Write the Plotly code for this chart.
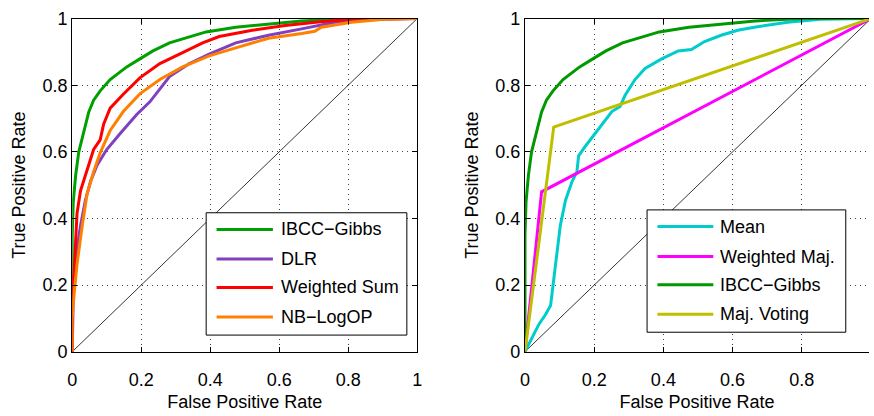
import plotly.graph_objects as go

# ---------------- data ----------------
ibcc_fpr = [0, 0, 0.003, 0.01, 0.019, 0.033, 0.048, 0.062, 0.081, 0.11, 0.158, 0.196, 0.234, 0.282, 0.33, 0.388, 0.474, 0.569, 0.665, 0.8, 1]
ibcc_tpr = [0, 0.35, 0.45, 0.53, 0.60, 0.66, 0.72, 0.755, 0.783, 0.817, 0.855, 0.879, 0.903, 0.927, 0.943, 0.96, 0.974, 0.984, 0.993, 1.0, 1.0]

dlr_fpr = [0, 0.003, 0.01, 0.024, 0.038, 0.053, 0.072, 0.1, 0.139, 0.187, 0.225, 0.254, 0.282, 0.34, 0.397, 0.474, 0.569, 0.665, 0.761, 0.856, 1]
dlr_tpr = [0, 0.168, 0.28, 0.378, 0.454, 0.511, 0.56, 0.607, 0.655, 0.712, 0.75, 0.788, 0.826, 0.865, 0.893, 0.927, 0.95, 0.969, 0.989, 0.998, 1]

ws_fpr = [0, 0, 0.005, 0.014, 0.024, 0.038, 0.053, 0.062, 0.081, 0.091, 0.11, 0.148, 0.196, 0.254, 0.32, 0.378, 0.426, 0.522, 0.617, 0.713, 0.809, 1]
ws_tpr = [0, 0.2, 0.235, 0.416, 0.483, 0.53, 0.578, 0.607, 0.636, 0.683, 0.731, 0.773, 0.822, 0.865, 0.898, 0.927, 0.946, 0.965, 0.979, 0.99, 0.998, 1]

nb_fpr = [0, 0, 0.005, 0.014, 0.029, 0.043, 0.062, 0.081, 0.11, 0.148, 0.196, 0.254, 0.32, 0.397, 0.474, 0.569, 0.665, 0.703, 0.722, 0.809, 0.904, 1]
nb_tpr = [0, 0.1, 0.168, 0.263, 0.378, 0.473, 0.54, 0.597, 0.664, 0.721, 0.774, 0.817, 0.855, 0.888, 0.912, 0.941, 0.955, 0.962, 0.974, 0.989, 0.998, 1]

mean_fpr = [0, 0.021, 0.04, 0.059, 0.074, 0.083, 0.093, 0.102, 0.117, 0.136, 0.15, 0.155, 0.174, 0.203, 0.232, 0.251, 0.275, 0.289, 0.318, 0.347, 0.395, 0.443, 0.481, 0.519, 0.567, 0.615, 0.663, 0.759, 0.854, 1]
mean_tpr = [0, 0.044, 0.082, 0.111, 0.139, 0.216, 0.302, 0.378, 0.454, 0.511, 0.54, 0.588, 0.616, 0.655, 0.693, 0.721, 0.736, 0.769, 0.817, 0.85, 0.879, 0.903, 0.907, 0.931, 0.95, 0.965, 0.974, 0.989, 0.998, 1]

wmaj_fpr = [0, 0.048, 1]
wmaj_tpr = [0, 0.48, 1]

maj_fpr = [0, 0.083, 1]
maj_tpr = [0, 0.674, 1]

diag = [0, 1]

tick_vals = [0, 0.2, 0.4, 0.6, 0.8, 1]
tick_text = ["0", "0.2", "0.4", "0.6", "0.8", "1"]

left_names = ["IBCC\u2212Gibbs", "DLR", "Weighted Sum", "NB\u2212LogOP"]
left_colors = ["#00A000", "#8040C0", "#FF0000", "#FF8000"]
right_names = ["Mean", "Weighted Maj.", "IBCC\u2212Gibbs", "Maj. Voting"]
right_colors = ["#00CCCC", "#FF00FF", "#009900", "#BFBF00"]

# ---------------- figure ----------------
W, H = 874, 416
FONT = "Liberation Sans, Arial, Helvetica, sans-serif"
LW = 3

fig = go.Figure()

# left panel
fig.add_trace(go.Scatter(x=diag, y=diag, mode="lines", line=dict(color="black", width=0.8), xaxis="x", yaxis="y"))
left_data = [(ibcc_fpr, ibcc_tpr), (dlr_fpr, dlr_tpr), (ws_fpr, ws_tpr), (nb_fpr, nb_tpr)]
for (fx, ty), name, col in zip(left_data, left_names, left_colors):
    fig.add_trace(go.Scatter(x=fx, y=ty, mode="lines", name=name, line=dict(color=col, width=LW), xaxis="x", yaxis="y"))

# right panel
fig.add_trace(go.Scatter(x=diag, y=diag, mode="lines", line=dict(color="black", width=0.8), xaxis="x2", yaxis="y2"))
right_data = [(mean_fpr, mean_tpr), (wmaj_fpr, wmaj_tpr), (ibcc_fpr, ibcc_tpr), (maj_fpr, maj_tpr)]
for (fx, ty), name, col in zip(right_data, right_names, right_colors):
    fig.add_trace(go.Scatter(x=fx, y=ty, mode="lines", name=name, line=dict(color=col, width=LW), xaxis="x2", yaxis="y2"))


def px(x):
    return x / W


def py(y):
    return 1 - y / H


axis_common = dict(
    range=[0, 1], showline=True, linecolor="black", linewidth=1, mirror="ticks",
    ticks="inside", ticklen=5, tickcolor="black", tickwidth=1,
    showgrid=True, gridcolor="#444444", gridwidth=1, griddash="1px,4px",
    zeroline=False, tickvals=tick_vals, ticktext=tick_text,
    tickfont=dict(family=FONT, size=18, color="black"),
    ticklabeloverflow="allow",
)

x_title = dict(text="False Positive Rate", standoff=6, font=dict(family=FONT, size=18))
y_title = dict(text="True Positive Rate", standoff=12, font=dict(family=FONT, size=18))

# the right panel in the reference runs slightly past the right edge of the image
right_end = (874 - 526) / 350.0

y_dom = [py(359), py(9)]
fig.update_layout(
    width=W, height=H, margin=dict(l=0, r=0, t=0, b=0),
    paper_bgcolor="white", plot_bgcolor="white", showlegend=False,
    font=dict(family=FONT, size=18, color="black"),
    xaxis=dict(axis_common, domain=[px(68), px(417)], anchor="y", ticklabelstandoff=12, title=x_title),
    yaxis=dict(axis_common, domain=y_dom, anchor="x", title=y_title),
    xaxis2=dict(axis_common, domain=[px(526), 1], anchor="y2", ticklabelstandoff=12, title=x_title),
    yaxis2=dict(axis_common, domain=y_dom, anchor="x2", title=y_title),
)
fig.update_layout(xaxis2_range=[0, right_end], yaxis2_mirror=False)

# ---------------- manual legends (MATLAB style) ----------------
shapes = []
annotations = []


def legend(box, line_x, text_x, ys, names, colors):
    x0, x1, y0, y1 = box
    shapes.append(dict(type="rect", xref="paper", yref="paper", x0=px(x0), x1=px(x1), y0=py(y1), y1=py(y0),
                       line=dict(color="black", width=1), fillcolor="white", layer="above"))
    for yy, nm, col in zip(ys, names, colors):
        shapes.append(dict(type="line", xref="paper", yref="paper", x0=px(line_x[0]), x1=px(line_x[1]),
                           y0=py(yy), y1=py(yy), line=dict(color=col, width=LW), layer="above"))
        annotations.append(dict(xref="paper", yref="paper", x=px(text_x), y=py(yy), text=nm, showarrow=False,
                                xanchor="left", yanchor="middle", font=dict(family=FONT, size=18, color="black")))


legend((203.5, 406.5, 213, 341.5), (214, 271), 277, [230.5, 261.5, 291.5, 322.5], left_names, left_colors)
legend((649.5, 850.5, 210, 338.5), (660, 716.5), 721, [227.5, 259, 288.5, 319.5], right_names, right_colors)

fig.update_layout(shapes=shapes, annotations=annotations)

fig.write_html("out.html")
